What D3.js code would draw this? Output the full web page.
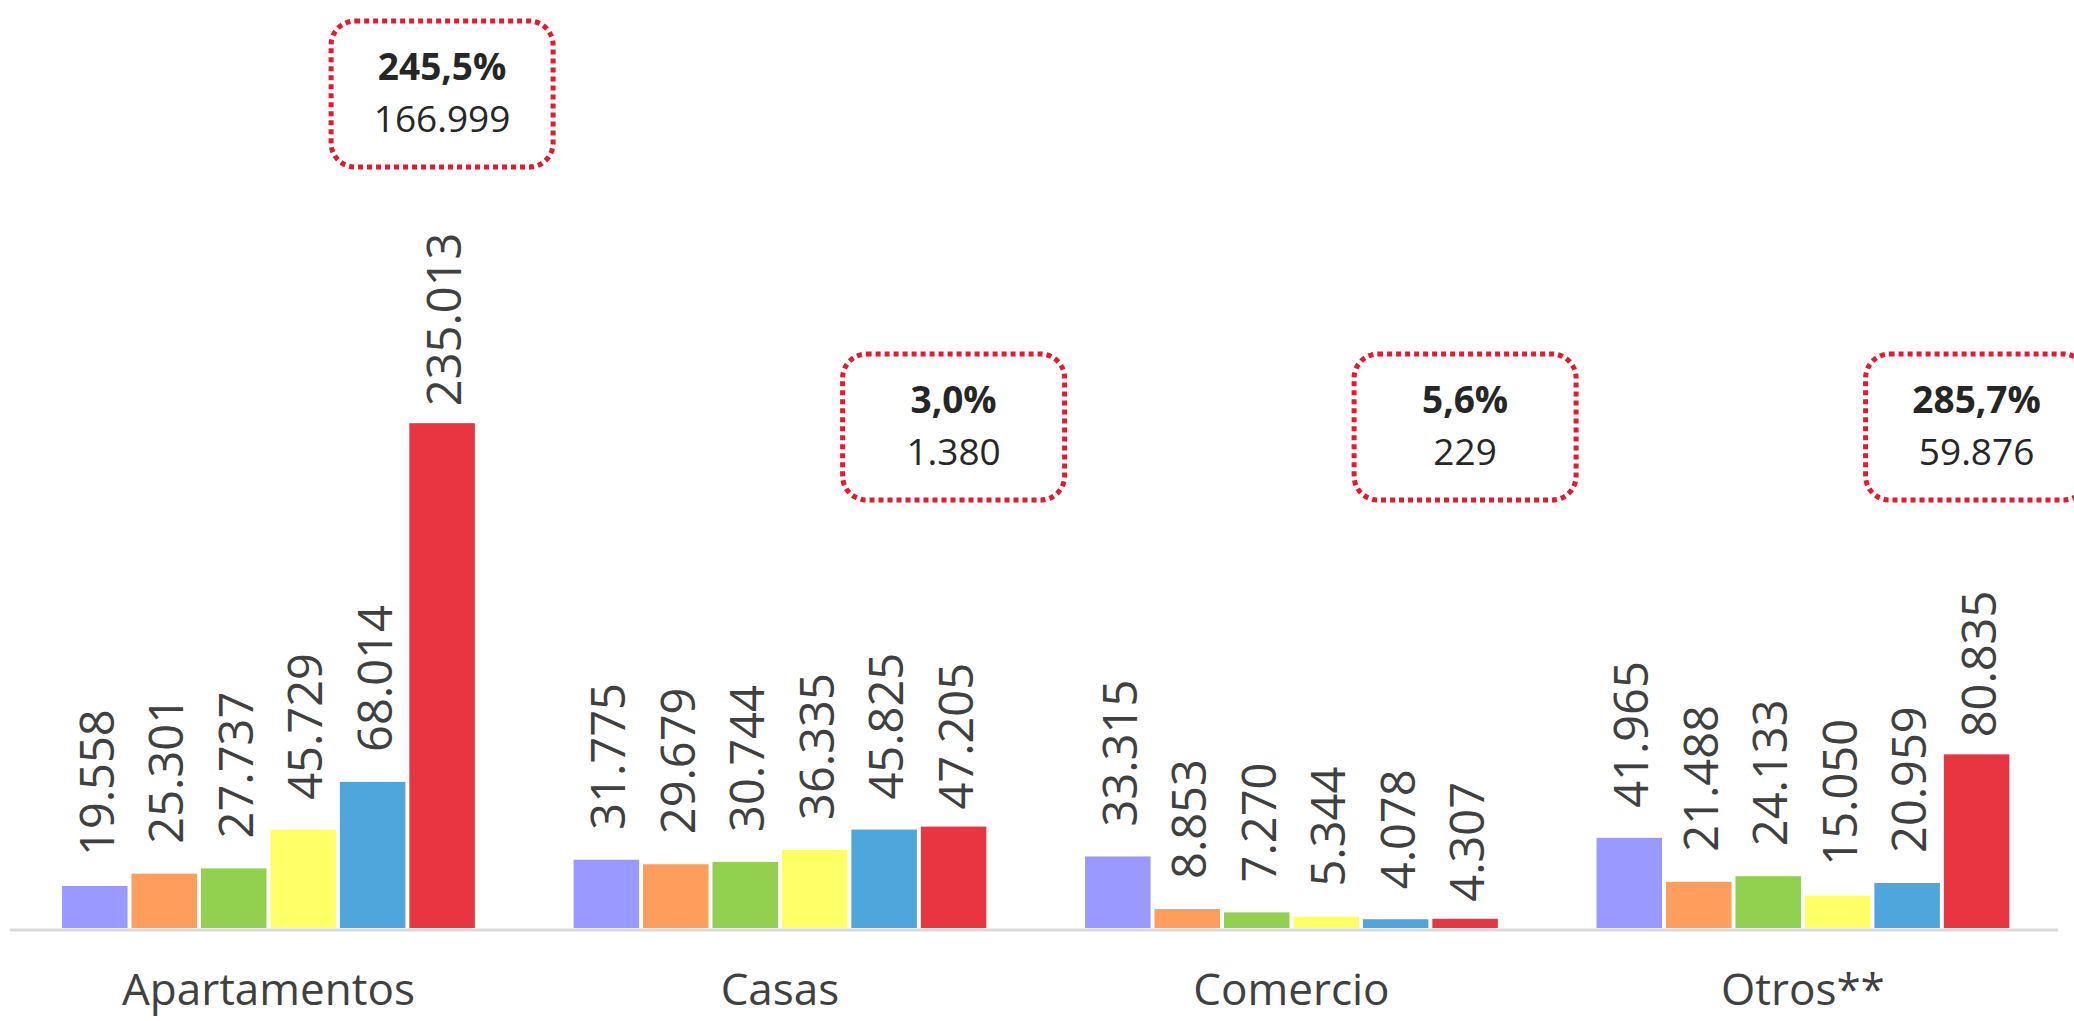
<!DOCTYPE html>
<html>
<head>
<meta charset="utf-8">
<script src="https://cdn.jsdelivr.net/npm/d3@7"></script>
<style>
  body { margin: 0; background: #fff; overflow: hidden; }
  svg { display: block; }
</style>
</head>
<body>
<div id="chart"></div>
<script>
// data
const categories = ['Apartamentos', 'Casas', 'Comercio', 'Otros**'];
const series = ['s1', 's2', 's3', 's4', 's5', 's6'];
const apartamentos = [19558, 25301, 27737, 45729, 68014, 235013];
const casas = [31775, 29679, 30744, 36335, 45825, 47205];
const comercio = [33315, 8853, 7270, 5344, 4078, 4307];
const otros = [41965, 21488, 24133, 15050, 20959, 80835];
const colors = ['#9999ff', '#ff9d5c', '#92d050', '#ffff66', '#4ea6dc', '#e93442'];

const values = [apartamentos, casas, comercio, otros];

const width = 2074;
const height = 1021;

const es = d3.formatLocale({decimal: ',', thousands: '.', grouping: [3], currency: ['', '']});
const fmtNum = es.format(',d');
const fmtPct = es.format('.1%');

const svg = d3.select('#chart')
  .append('svg')
    .attr('width', width)
    .attr('height', height);

const x0 = d3.scaleBand()
    .domain(categories)
    .range([12.7, 2058.7])
    .paddingInner(0.193)
    .paddingOuter(0.0965);

const x1 = d3.scaleBand()
    .domain(series)
    .range([0, x0.bandwidth()])
    .paddingInner(0.057);

const y = d3.scaleLinear()
    .domain([0, 432000])
    .range([928, 0]);

// bars
const groups = svg.selectAll('.group')
  .data(categories)
  .join('g')
    .attr('class', 'group')
    .attr('transform', d => `translate(${x0(d)},0)`);

groups.selectAll('rect')
  .data((d, i) => values[i].map((v, j) => ({key: series[j], value: v, idx: j})))
  .join('rect')
    .attr('x', d => x1(d.key))
    .attr('y', d => y(d.value))
    .attr('width', x1.bandwidth())
    .attr('height', d => y(0) - y(d.value))
    .attr('fill', (d, i) => colors[i]);

// value labels (rotated)
groups.selectAll('.val')
  .data((d, i) => values[i].map((v, j) => ({key: series[j], value: v, idx: j})))
  .join('text')
    .attr('class', 'val')
    .attr('transform', d => `translate(${x1(d.key) + x1.bandwidth() / 2 + 2},${y(d.value) - (d.idx === 5 ? 17 : 30)}) rotate(-90)`)
    .attr('dy', '0.36em')
    .attr('font-family', '"Open Sans", sans-serif')
    .attr('font-size', 47)
    .attr('fill', '#404040')
    .text(d => fmtNum(d.value));

// axis line
svg.append('line')
    .attr('x1', 10)
    .attr('x2', 2058)
    .attr('y1', y(0) + 2)
    .attr('y2', y(0) + 2)
    .attr('stroke', '#d9d9d9')
    .attr('stroke-width', 3);

// category labels
svg.selectAll('.cat')
  .data(categories)
  .join('text')
    .attr('class', 'cat')
    .attr('x', d => x0(d) + x0.bandwidth() / 2)
    .attr('y', 1005)
    .attr('text-anchor', 'middle')
    .attr('font-family', '"Open Sans", sans-serif')
    .attr('font-size', 44)
    .attr('fill', '#404040')
    .text(d => d);

// change boxes over the last bar: increase vs previous series
const boxW = 222, boxH = 146;
const rowTop = 354, topRow = 21;

categories.forEach((c, i) => {
  const v = values[i];
  const last = v[v.length - 1], prev = v[v.length - 2];
  const cx = x0(c) + x1(series[5]) + x1.bandwidth() / 2;
  const labelTop = y(last) - 17 - 170;
  const top = labelTop < rowTop + boxH + 20 ? topRow : rowTop;

  const b = svg.append('g')
      .attr('transform', `translate(${cx - boxW / 2},${top})`);

  b.append('rect')
      .attr('width', boxW)
      .attr('height', boxH)
      .attr('rx', 24)
      .attr('fill', 'none')
      .attr('stroke', '#e8192c')
      .attr('stroke-width', 5)
      .attr('stroke-dasharray', '5,4');

  b.append('text')
      .attr('x', boxW / 2)
      .attr('y', 59)
      .attr('text-anchor', 'middle')
      .attr('font-family', '"Open Sans", sans-serif')
      .attr('font-weight', 'bold')
      .attr('font-size', 37)
      .attr('fill', '#262626')
      .text(fmtPct((last - prev) / prev));

  b.append('text')
      .attr('x', boxW / 2)
      .attr('y', 111)
      .attr('text-anchor', 'middle')
      .attr('font-family', '"Open Sans", sans-serif')
      .attr('font-size', 37)
      .attr('fill', '#262626')
      .text(fmtNum(last - prev));
});
</script>
</body>
</html>
